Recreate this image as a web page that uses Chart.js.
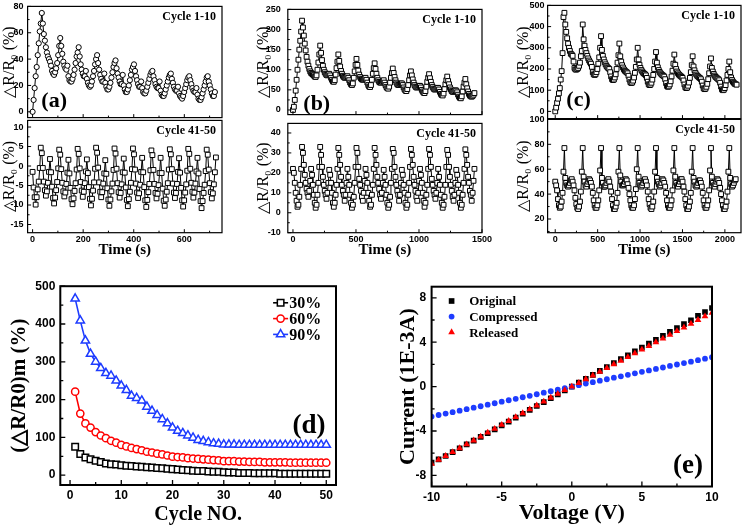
<!DOCTYPE html>
<html>
<head>
<meta charset="utf-8">
<script src="https://cdn.jsdelivr.net/npm/chart.js@4.4.1/dist/chart.umd.min.js"></script>
<style>
  html, body { margin: 0; padding: 0; background: #fff; }
  #fig { position: relative; width: 745px; height: 527px; overflow: hidden; background: #fff; }
  #fig canvas { position: absolute; }
</style>
</head>
<body>
<div id="fig"></div>
<script>
// ---- data ----

// (a) 30% strain, sampled every ~4 s
const aStep = 4.05;
const aCycle1to10 = [
  0, 9, 18, 27, 34, 43, 52, 61, 67,
  75, 67, 59, 54, 49, 45, 42, 40, 38, 35, 31, 29, 28, 30, 33, 37, 43, 50,
  56, 50, 44, 38, 35, 33, 32, 35, 27, 24, 23, 23, 25, 28, 32, 37, 42, 45,
  49, 42, 36, 32, 29, 27, 27, 31, 25, 22, 20, 19, 20, 23, 27, 31, 36, 40,
  43, 37, 32, 28, 25, 23, 23, 29, 22, 19, 17, 17, 19, 22, 26, 30, 34, 37,
  39, 33, 29, 26, 23, 21, 21, 28, 20, 17, 15, 15, 17, 20, 24, 28, 32, 34,
  36, 31, 27, 24, 21, 19, 19, 23, 18, 15, 14, 14, 16, 19, 22, 25, 28, 30,
  31, 27, 24, 21, 19, 18, 18, 23, 16, 13, 12, 12, 14, 17, 20, 23, 26, 28,
  29, 25, 22, 19, 17, 16, 16, 19, 14, 12, 11, 10, 12, 15, 18, 21, 24, 26,
  27, 24, 21, 18, 16, 15, 15, 18, 13, 10, 9, 9, 11, 14, 17, 20, 23, 26,
  27, 23, 20, 17, 14, 12, 12, 15
];
const aCycle41to50 = [
  -1.5, -5.5, -8, -9.9, -8, -6, -4, -0.5,
  4.7, 3.3, -0.5, -4, -6.2, -7.6, -6.5, -4.3, -1.5, 1.8, -1.6, -5.3, -8.2, -9.6, -8.1, -6.2, -4.1, -0.6,
  4.2, 2.9, -0.8, -4.3, -6.5, -7.8, -6.8, -4.6, -1.7, 1.6, -1.9, -5.6, -8.5, -9.8, -8.3, -6.4, -4.4, -0.9,
  4.4, 3.1, -0.6, -4.1, -6.3, -7.9, -6.6, -4.4, -1.4, 1.7, -1.8, -5.4, -8.4, -10.1, -8.4, -6.3, -4.2, -0.7,
  4.7, 3.4, -0.4, -4.2, -6.6, -8.0, -6.7, -4.5, -1.9, 1.5, -2.0, -5.7, -8.6, -10.2, -8.6, -6.5, -4.5, -1.0,
  4.5, 3.2, -0.7, -4.4, -6.7, -8.1, -6.9, -4.7, -1.6, 1.9, -1.7, -5.5, -8.7, -10.3, -8.5, -6.6, -4.3, -0.8,
  4.5, 3.0, -0.9, -4.5, -6.8, -8.2, -7.0, -4.8, -1.5, 2.1, -1.6, -5.4, -8.8, -10.5, -8.7, -6.7, -4.6, -1.1,
  4.0, 2.8, -1.0, -4.6, -6.9, -8.3, -7.1, -4.9, -1.8, 2.1, -1.8, -5.8, -8.9, -10.2, -8.6, -6.6, -4.4, -0.9,
  4.3, 3.0, -0.8, -4.5, -6.8, -8.2, -6.9, -4.6, -1.5, 2.0, -1.7, -5.6, -8.8, -10.4, -8.8, -6.8, -4.7, -1.2,
  4.4, 3.1, -0.7, -4.3, -6.6, -8.1, -6.8, -4.5, -1.4, 2.1, -1.9, -5.9, -9.0, -10.8, -9.0, -6.9, -4.8, -1.3,
  4.2, 2.9, -0.9, -4.4, -6.7, -8.3, -7.0, -4.7, -1.6, 2.2
];

// (b) 60% strain, sampled every ~7.2 s
const bStep = 7.2;
const bCycle1to10 = [
  0, 8, 25, 48, 75, 100, 125, 150, 172, 195,
  222, 205, 185, 165, 148, 132, 120, 110, 102, 96, 92, 90, 88, 86, 83, 82, 86, 100, 118, 138,
  160, 142, 124, 110, 100, 94, 90, 87, 86, 88, 90, 86, 80, 75, 71, 70, 74, 88, 104, 120,
  138, 122, 108, 97, 90, 85, 82, 80, 80, 82, 84, 80, 74, 68, 64, 62, 66, 80, 96, 112,
  127, 112, 98, 88, 82, 78, 76, 75, 76, 78, 80, 75, 68, 62, 58, 57, 62, 75, 90, 104,
  116, 102, 90, 80, 74, 70, 68, 68, 70, 72, 74, 68, 62, 57, 54, 53, 58, 68, 80, 92,
  103, 92, 82, 74, 68, 64, 62, 62, 64, 66, 66, 62, 56, 51, 48, 47, 52, 62, 74, 86,
  96, 86, 76, 68, 62, 58, 56, 56, 58, 60, 60, 56, 50, 46, 43, 42, 47, 58, 70, 80,
  89, 79, 70, 62, 57, 53, 51, 51, 53, 55, 55, 51, 45, 40, 37, 36, 41, 52, 64, 74,
  83, 72, 64, 56, 51, 47, 45, 45, 47, 49, 48, 44, 38, 33, 30, 29, 34, 46, 58, 68,
  77, 64, 54, 46, 40, 36, 34, 33, 35, 38, 42
];
const bCycle41to50 = [
  22, 20, 15, 10, 6, 3, 4, 8, 14, 22, 33, 30, 24, 19, 15, 12, 10, 8, 11, 16,
  22, 19, 14, 9, 5, 2.5, 4, 9, 15, 23, 33, 29, 23, 18, 14, 11, 9, 7, 10, 15,
  21.5, 19, 15, 10, 5, 3, 5, 9, 14, 22, 32.5, 29, 24, 18, 14, 11, 9, 6, 9, 15,
  22, 18, 14, 9, 5, 2.5, 4, 8, 15, 23, 32.5, 30, 23, 17, 14, 11, 8, 6, 10, 16,
  22, 19, 15, 10, 6, 3, 4, 9, 14, 22, 32.5, 29, 24, 18, 15, 12, 9, 7, 10, 15,
  21.5, 18, 14, 9, 5, 2.5, 4, 8, 15, 22, 32, 30, 23, 18, 14, 11, 9, 6, 9, 15,
  21.5, 19, 14, 10, 5, 2.5, 4, 9, 15, 23, 32, 29, 24, 18, 14, 11, 8, 6, 10, 16,
  22, 19, 15, 10, 6, 3, 5, 9, 14, 22, 32, 29, 23, 17, 14, 11, 9, 7, 10, 15,
  22, 18, 14, 9, 5, 2.5, 4, 8, 14, 23, 31.5, 29, 23, 18, 14, 11, 8, 6, 9, 15,
  21.5, 19, 14, 10, 5, 2.5, 4, 9, 15, 22, 31.8, 29, 24, 18, 15, 11, 9, 6, 10, 16,
  22
];

// (c) 90% strain, sampled every ~10.8 s
const cStep = 10.8;
const cCycle1to10 = [
  0, 18, 40, 60, 85, 110, 150, 190, 275, 445,
  465, 410, 375, 345, 320, 300, 285, 272, 268, 262, 235, 205, 198, 197, 200, 205, 215, 230, 260, 285,
  410, 340, 310, 290, 275, 262, 250, 240, 232, 225, 210, 185, 175, 172, 175, 185, 200, 225, 255, 300,
  355, 290, 262, 245, 232, 222, 214, 208, 204, 200, 185, 165, 152, 148, 150, 160, 175, 200, 230, 265,
  320, 260, 235, 218, 207, 198, 192, 188, 185, 180, 168, 150, 138, 134, 136, 145, 160, 182, 210, 245,
  300, 245, 220, 205, 195, 188, 182, 178, 175, 170, 158, 140, 128, 124, 126, 135, 150, 172, 200, 235,
  280, 230, 208, 195, 186, 180, 175, 171, 168, 164, 152, 133, 120, 116, 118, 127, 142, 165, 192, 225,
  268, 220, 200, 188, 180, 174, 170, 166, 163, 158, 146, 127, 114, 110, 112, 121, 136, 158, 185, 218,
  260, 212, 194, 182, 174, 168, 164, 160, 157, 152, 140, 122, 109, 105, 107, 116, 130, 152, 180, 212,
  250, 205, 188, 177, 169, 163, 159, 155, 152, 147, 135, 117, 104, 100, 102, 110, 124, 146, 172, 200,
  235, 185, 160, 148, 140, 135, 130, 128, 126
];
const cCycle41to50 = [
  50, 47, 43, 36, 31, 29, 30, 34, 41, 58,
  77, 53, 49, 47, 46, 47, 49, 51, 52, 50, 47, 43, 37, 32, 29, 28, 30, 34, 42, 58,
  77, 54, 50, 47, 46, 48, 50, 52, 51, 49, 46, 41, 35, 31, 29, 29, 31, 35, 43, 59,
  77, 53, 49, 46, 46, 47, 49, 51, 52, 50, 46, 42, 36, 31, 28, 28, 30, 33, 41, 58,
  77, 55, 50, 47, 47, 48, 50, 52, 51, 48, 45, 40, 35, 31, 29, 29, 31, 36, 44, 60,
  77, 54, 49, 47, 46, 47, 49, 51, 52, 50, 47, 42, 36, 32, 29, 28, 30, 34, 42, 58,
  77, 53, 50, 48, 46, 47, 49, 52, 51, 49, 46, 41, 35, 31, 29, 29, 31, 35, 43, 59,
  77, 54, 49, 47, 46, 48, 50, 52, 52, 50, 46, 42, 36, 31, 28, 28, 30, 34, 41, 58,
  77, 53, 50, 47, 46, 47, 49, 51, 51, 49, 46, 41, 35, 31, 29, 29, 31, 35, 43, 59,
  77, 54, 49, 47, 46, 48, 50, 52, 51, 49, 45, 40, 35, 31, 28, 28, 30, 34, 42, 58,
  77, 53, 48, 46, 47, 49, 51, 52
];

// (d) peak response per cycle
const cycleNo = Array.from({length: 50}, (_, i) => i + 1);
const dLabels = ['30%', '60%', '90%'];
const d30 = [75, 56, 47, 42, 38, 35, 31, 29, 28, 26, 25, 24, 23, 22, 21, 20, 19, 18, 17, 16,
  15, 14, 13, 12, 11, 11, 10, 9, 9, 8, 7, 7, 6, 6, 6, 5, 5, 5, 5, 5,
  4, 4, 4, 4, 4, 4, 4, 4, 4, 4];
const d60 = [221, 163, 137, 126, 114, 105, 98, 91, 86, 80, 76, 72, 69, 66, 62, 60, 57, 55, 52, 49,
  48, 47, 45, 44, 43, 42, 41, 40, 39, 37, 37, 37, 36, 36, 35, 35, 35, 34, 34, 34,
  34, 34, 33, 33, 33, 33, 33, 33, 33, 33];
const d90 = [467, 409, 356, 321, 300, 283, 270, 263, 250, 237, 225, 210, 204, 197, 181, 170, 159, 148, 137, 126,
  117, 111, 105, 99, 93, 90, 87, 84, 83, 81, 81, 81, 80, 80, 80, 80, 80, 80, 80, 80,
  80, 80, 80, 80, 80, 80, 80, 80, 80, 80];

// (e) I-V curves
const eLabels = ['Original', 'Compressed', 'Released'];
const eVolt = [-10, -9.5, -9, -8.5, -8, -7.5, -7, -6.5, -6, -5.5, -5, -4.5, -4, -3.5, -3, -2.5, -2, -1.5, -1, -0.5,
  0, 0.5, 1, 1.5, 2, 2.5, 3, 3.5, 4, 4.5, 5, 5.5, 6, 6.5, 7, 7.5, 8, 8.5, 9, 9.5, 10];
const eOriginal = [-6.85, -6.55, -6.25, -5.9, -5.55, -5.2, -4.87, -4.53, -4.2, -3.85, -3.5, -3.15, -2.8, -2.45, -2.1, -1.75, -1.4, -1.05, -0.7, -0.35,
  0, 0.36, 0.71, 1.06, 1.41, 1.76, 2.12, 2.47, 2.82, 3.17, 3.52, 3.87, 4.22, 4.58, 4.93, 5.28, 5.63, 5.98, 6.38, 6.72, 7.08];
const eCompressed = [-2.7, -2.56, -2.43, -2.3, -2.17, -2.03, -1.9, -1.77, -1.63, -1.5, -1.36, -1.23, -1.1, -0.96, -0.83, -0.69, -0.55, -0.42, -0.28, -0.14,
  0, 0.13, 0.27, 0.4, 0.53, 0.66, 0.8, 0.93, 1.06, 1.2, 1.33, 1.46, 1.59, 1.72, 1.86, 1.99, 2.12, 2.25, 2.38, 2.52, 2.65];
const eReleased = [-6.95, -6.6, -6.25, -5.9, -5.55, -5.2, -4.85, -4.5, -4.15, -3.8, -3.45, -3.1, -2.75, -2.4, -2.05, -1.7, -1.35, -1.0, -0.65, -0.32,
  0, 0.33, 0.66, 1.0, 1.33, 1.66, 2.0, 2.33, 2.66, 3.0, 3.33, 3.66, 4.0, 4.33, 4.66, 5.0, 5.33, 5.66, 6.0, 6.33, 6.65];

// tick labels
const aTimeTicks = [0, 200, 400, 600];
const bTimeTicks = [0, 500, 1000, 1500];
const cTimeTicks = [0, 500, 1000, 1500, 2000];
const aTopTicks = [0, 20, 40, 60, 80];
const aLowTicks = [-15, -10, -5, 0, 5, 10];
const bTopTicks = [0, 50, 100, 150, 200, 250];
const bLowTicks = [-10, 0, 10, 20, 30, 40];
const cTopTicks = [0, 100, 200, 300, 400, 500];
const cLowTicks = [20, 40, 60, 80, 100];
const dXTicks = [0, 10, 20, 30, 40, 50];
const dYTicks = [0, 100, 200, 300, 400, 500];
const eXTicks = [-10, -5, 0, 5, 10];
const eYTicks = [-8, -4, 0, 4, 8];

// ---- drawing ----
const serif = '"Liberation Serif", "Times New Roman", serif';
const sans = '"Liberation Sans", Arial, sans-serif';
const RED = '#FF0000';
const BLUE = '#1E3CFF';
const fig = document.getElementById('fig');

function sampled(values, step) {
  return values.map((v, i) => ({x: i * step, y: v}));
}
function paired(xs, ys) {
  return xs.map((x, i) => ({x: x, y: ys[i]}));
}
function fixedTicks(vals) {
  return function (scale) { scale.ticks = vals.map(v => ({value: v})); };
}
function plainLabel(value) {
  return String(value);
}

// border box, inward ticks, text notes and a hand-drawn legend
const framePlugin = {
  id: 'frame',
  defaults: {},
  afterDatasetsDraw(chart, args, opts) {
    const ctx = chart.ctx, a = chart.chartArea;
    const xs = chart.scales.x, ys = chart.scales.y;
    const major = opts.major || 4, minor = opts.minor || 2;
    ctx.save();
    ctx.strokeStyle = '#000';
    ctx.lineWidth = opts.tickWidth || 1;
    ctx.beginPath();
    function marks(scale, horizontal) {
      const t = scale.ticks.map(k => k.value);
      const step = t[1] - t[0];
      const all = t.map(v => [v, major]);
      for (let i = -1; i < t.length; i++) {
        const v = (i < 0 ? t[0] - step : t[i]) + step / 2;
        all.push([v, minor]);
      }
      all.forEach(([v, len]) => {
        if (v < scale.min || v > scale.max) return;
        const p = scale.getPixelForValue(v);
        if (horizontal) { ctx.moveTo(p, a.bottom); ctx.lineTo(p, a.bottom - len); }
        else { ctx.moveTo(a.left, p); ctx.lineTo(a.left + len, p); }
      });
    }
    marks(xs, true);
    marks(ys, false);
    ctx.stroke();
    ctx.lineWidth = opts.lineWidth || 1.2;
    ctx.strokeRect(a.left, a.top, a.right - a.left, a.bottom - a.top);

    ctx.fillStyle = '#000';
    ctx.textBaseline = 'middle';
    (opts.notes || []).forEach(n => {
      ctx.font = n.font;
      ctx.textAlign = n.align || 'left';
      const x = n.align === 'right' ? a.right - n.dx : a.left + n.dx;
      ctx.fillText(n.text, x, a.top + n.dy);
    });

    const lg = opts.legend;
    if (lg) {
      chart.data.datasets.forEach((ds, i) => {
        const cx = a.left + lg.dx, cy = a.top + lg.dy + i * lg.gap;
        if (lg.line) {
          ctx.strokeStyle = ds.borderColor;
          ctx.lineWidth = ds.borderWidth;
          ctx.beginPath();
          ctx.moveTo(cx - lg.line, cy);
          ctx.lineTo(cx + lg.line, cy);
          ctx.stroke();
        }
        ctx.fillStyle = ds.pointBackgroundColor;
        ctx.strokeStyle = ds.pointBorderColor;
        ctx.lineWidth = ds.pointBorderWidth;
        Chart.helpers.drawPoint(ctx, {pointStyle: ds.pointStyle, radius: ds.pointRadius, borderWidth: ds.pointBorderWidth, rotation: 0}, cx, cy);
        ctx.fillStyle = '#000';
        ctx.font = lg.font;
        ctx.textAlign = 'left';
        ctx.fillText(ds.label, a.left + lg.textDx, cy + 1);
      });
    }
    ctx.restore();
  }
};
Chart.register(framePlugin);

// area = [left, top, right, bottom] of the plot box on the page
function addChart(area, datasets, o) {
  const padT = 8, padR = 14, padB = o.xH ? 0 : 8;
  const xH = o.xH || 0;
  const cv = document.createElement('canvas');
  cv.width = Math.round(area[2] - area[0] + o.yW + padR);
  cv.height = Math.round(area[3] - area[1] + padT + xH + padB);
  cv.style.left = Math.round(area[0] - o.yW) + 'px';
  cv.style.top = Math.round(area[1] - padT) + 'px';
  fig.appendChild(cv);
  return new Chart(cv, {
    type: 'line',
    data: {datasets: datasets},
    options: {
      responsive: false,
      animation: false,
      events: [],
      layout: {padding: {left: 0, top: padT, right: padR, bottom: padB}},
      plugins: {
        legend: {display: false},
        tooltip: {enabled: false},
        frame: o.frame
      },
      scales: {
        x: {
          type: 'linear',
          min: o.xRange[0],
          max: o.xRange[1],
          afterBuildTicks: fixedTicks(o.xTicks),
          afterFit: function (s) { s.height = xH; },
          grid: {display: false, drawTicks: false},
          border: {display: false},
          ticks: {display: !!o.xH, font: o.tickFont, color: '#000', padding: o.xPad || 0, autoSkip: false, maxRotation: 0, callback: plainLabel},
          title: o.xTitle ? {display: true, text: o.xTitle, font: o.xTitleFont, color: '#000', padding: 0} : {display: false}
        },
        y: {
          type: 'linear',
          min: o.yRange[0],
          max: o.yRange[1],
          afterBuildTicks: fixedTicks(o.yTicks),
          afterFit: function (s) { s.width = o.yW; },
          grid: {display: false, drawTicks: false},
          border: {display: false},
          ticks: {font: o.tickFont, color: '#000', padding: o.yPad || 4, autoSkip: false, callback: plainLabel},
          title: {display: true, text: o.yTitle, font: o.yTitleFont, color: '#000', padding: 0}
        }
      }
    }
  });
}

function timeSet(values, step, style) {
  return {
    data: sampled(values, step),
    borderColor: '#000',
    borderWidth: 1,
    pointStyle: style,
    pointRadius: style === 'circle' ? 2.6 : 3.4,
    pointBorderColor: '#000',
    pointBackgroundColor: '#fff',
    pointBorderWidth: 1
  };
}

const smallTick = {family: sans, size: 9, weight: 'bold'};
const smallYTitle = {family: serif, size: 16};
const timeTitle = {family: serif, size: 15, weight: 'bold'};
const yTitleText = '\u25B3R/R\u2080 (%)';
const cycleFont = 'bold 12px ' + serif;
const tagFont = 'bold 22px ' + serif;

// top row: three columns, two stacked boxes each
const columns = [
  {left: 28, right: 222.7, yW: 27.6, yPad: 4, step: aStep, top: aCycle1to10, low: aCycle41to50, mark: 'circle',
   xRange: [-19.7, 749], xTicks: aTimeTicks, topY: [-4.4, 80], topTicks: aTopTicks, lowY: [-17.1, 11.7], lowTicks: aLowTicks, tag: '(a)', tagDx: 13.7},
  {left: 287.5, right: 481.7, yW: 33.8, yPad: 7, step: bStep, top: bCycle1to10, low: bCycle41to50, mark: 'rect',
   xRange: [-41, 1500], xTicks: bTimeTicks, topY: [-11.5, 250], topTicks: bTopTicks, lowY: [-10, 44.8], lowTicks: bLowTicks, tag: '(b)', tagDx: 15.5},
  {left: 547.3, right: 741, yW: 33.6, yPad: 3, step: cStep, top: cCycle1to10, low: cCycle41to50, mark: 'rect',
   xRange: [-90, 2190], xTicks: cTimeTicks, topY: [-34, 500], topTicks: cTopTicks, lowY: [9, 100], lowTicks: cLowTicks, tag: '(c)', tagDx: 18.7}
];

columns.forEach(col => {
  addChart([col.left, 5, col.right, 119], [timeSet(col.top, col.step, col.mark)], {
    yW: col.yW, yPad: col.yPad, xRange: col.xRange, xTicks: col.xTicks, yRange: col.topY, yTicks: col.topTicks,
    tickFont: smallTick, yTitle: yTitleText, yTitleFont: smallYTitle,
    frame: {major: 3.5, minor: 2, lineWidth: 1.2, notes: [
      {text: 'Cycle 1-10', font: cycleFont, align: 'right', dx: 6, dy: 10.7},
      {text: col.tag, font: tagFont, dx: col.tagDx, dy: 95}
    ]}
  });
  addChart([col.left, 119, col.right, 232.7], [timeSet(col.low, col.step, 'rect')], {
    yW: col.yW, yPad: col.yPad, xH: 26.3, xPad: 1, xRange: col.xRange, xTicks: col.xTicks, yRange: col.lowY, yTicks: col.lowTicks,
    tickFont: smallTick, yTitle: yTitleText, yTitleFont: smallYTitle,
    xTitle: 'Time (s)', xTitleFont: timeTitle,
    frame: {major: 3.5, minor: 2, lineWidth: 1.2, notes: [
      {text: 'Cycle 41-50', font: cycleFont, align: 'right', dx: 6, dy: 10.5}
    ]}
  });
});

// (d) peak response vs cycle number
function cycleSet(label, values, color, style, radius) {
  return {
    label: label,
    data: paired(cycleNo, values),
    borderColor: color,
    borderWidth: 1.6,
    pointStyle: style,
    pointRadius: radius,
    pointBorderColor: color,
    pointBackgroundColor: '#fff',
    pointBorderWidth: 1.5
  };
}
addChart([60.7, 281.7, 336.7, 485], [
  cycleSet(dLabels[0], d30, '#000', 'rect', 4.6),
  cycleSet(dLabels[1], d60, RED, 'circle', 3.6),
  cycleSet(dLabels[2], d90, BLUE, 'triangle', 4.8)
], {
  yW: 53.3, yPad: 5, xH: 42, xPad: 3, xRange: [-1.9, 51.9], xTicks: dXTicks, yRange: [-26, 500], yTicks: dYTicks,
  tickFont: {family: sans, size: 12, weight: 'bold'},
  yTitle: '(\u25B3R/R0)m (%)', yTitleFont: {family: serif, size: 21, weight: 'bold'},
  xTitle: 'Cycle NO.', xTitleFont: {family: serif, size: 20, weight: 'bold'},
  frame: {major: 5, minor: 3, lineWidth: 2, tickWidth: 1.3,
    notes: [{text: '(d)', font: 'bold 27px ' + serif, dx: 232.3, dy: 140}],
    legend: {dx: 220.3, dy: 16.6, gap: 15.8, line: 7.5, textDx: 229, font: 'bold 16px ' + serif}}
});

// (e) I-V curves
function ivSet(label, values, color, style, radius, order) {
  return {
    label: label,
    data: paired(eVolt, values),
    showLine: false,
    borderColor: color,
    borderWidth: 0,
    pointStyle: style,
    pointRadius: radius,
    pointBorderColor: color,
    pointBackgroundColor: color,
    pointBorderWidth: 0,
    order: order
  };
}
addChart([431.7, 281.7, 712.3, 486], [
  ivSet(eLabels[0], eOriginal, '#000', 'rect', 4, 2),
  ivSet(eLabels[1], eCompressed, BLUE, 'circle', 2.9, 1),
  ivSet(eLabels[2], eReleased, RED, 'triangle', 3.9, 0)
], {
  yW: 36.6, yPad: 5.5, xH: 40.5, xPad: 4, xRange: [-10, 10], xTicks: eXTicks, yRange: [-9, 9], yTicks: eYTicks,
  tickFont: {family: sans, size: 12, weight: 'bold'},
  yTitle: 'Current (1E-3A)', yTitleFont: {family: serif, size: 22, weight: 'bold'},
  xTitle: 'Voltage (V)', xTitleFont: {family: serif, size: 22, weight: 'bold'},
  frame: {major: 5, minor: 3, lineWidth: 2, tickWidth: 1.3,
    notes: [{text: '(e)', font: 'bold 27px ' + serif, dx: 241.3, dy: 179}],
    legend: {dx: 20, dy: 14.3, gap: 15.6, line: 0, textDx: 37.6, font: 'bold 13px ' + serif}}
});
</script>
</body>
</html>
